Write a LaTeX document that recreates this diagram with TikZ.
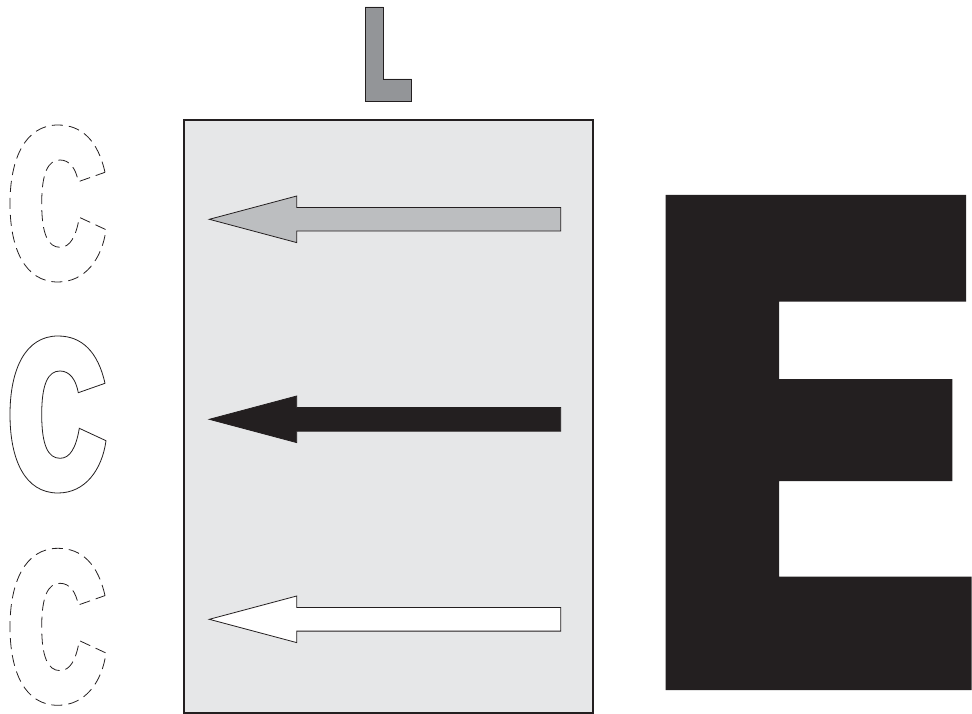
\documentclass[tikz,border=0pt]{standalone}
\usepackage{tikz}
\usetikzlibrary{positioning}
\definecolor{panelgray}{HTML}{E6E7E8}
\definecolor{arrowgray}{HTML}{BCBEC0}
\definecolor{lettergray}{HTML}{939598}
\definecolor{inkblack}{HTML}{231F20}

\begin{document}
\begin{tikzpicture}[
  x=1pt, y=-1pt,
  panel/.style={draw=inkblack, fill=panelgray, line width=1.2pt},
  flowarrow/.style={draw=inkblack, line width=0.8pt, line join=miter},
  solidletter/.style={draw=inkblack, line width=0.8pt, fill=white},
  dashedletter/.style={draw=inkblack, line width=0.8pt, dash pattern=on 11pt off 6pt},
  blockletter/.style={fill=inkblack},
]
  \useasboundingbox (0,0) rectangle (972,714);

  % Gray L on top
  \draw [flowarrow, fill=lettergray] (365,7) -- (383.3,7) -- (383.3,79) -- (411.7,79)
    -- (411.7,101) -- (365,101) -- cycle;

  % Panel
  \draw [panel] (184,120) rectangle (593,713);

  % Three arrows pointing left
  \foreach \y/\col in {219.3/arrowgray, 419.3/inkblack, 619.3/white} {
    \draw [flowarrow, fill=\col] (209.3,\y) -- ++(87.4,-23.3) -- ++(0,11.5) -- ++(264,0)
      -- ++(0,23.6) -- ++(-264,0) -- ++(0,11.5) -- cycle;
  }

  % Outlined C letters on the left
  \foreach \dy/\sty in {-211/dashedletter, 0/solidletter, 212.3/dashedletter} {
    \draw [\sty, shift={(0,\dy)}]
      (105,383.3) .. controls (98,352) and (82,336) .. (58,336)
      .. controls (25,336) and (10,370) .. (10,414.5)
      .. controls (10,460) and (25,493) .. (58,493)
      .. controls (85,493) and (102,470) .. (106,440.7)
      -- (79.3,428.3)
      .. controls (76,448) and (70,458.3) .. (60,458.3)
      .. controls (48,458.3) and (41.7,445) .. (41.7,414.5)
      .. controls (41.7,384) and (48,371) .. (60,371)
      .. controls (70,371) and (76,380) .. (78.3,392.7)
      -- cycle;
  }

  % Big black E on the right
  \fill [blockletter] (665.7,195) -- (966,195) -- (966,301.7) -- (779,301.7) -- (779,379)
    -- (952.3,379) -- (952.3,481) -- (779,481) -- (779,576.7) -- (971.7,576.7)
    -- (971.7,690) -- (665.7,690) -- cycle;

\end{tikzpicture}
\end{document}
